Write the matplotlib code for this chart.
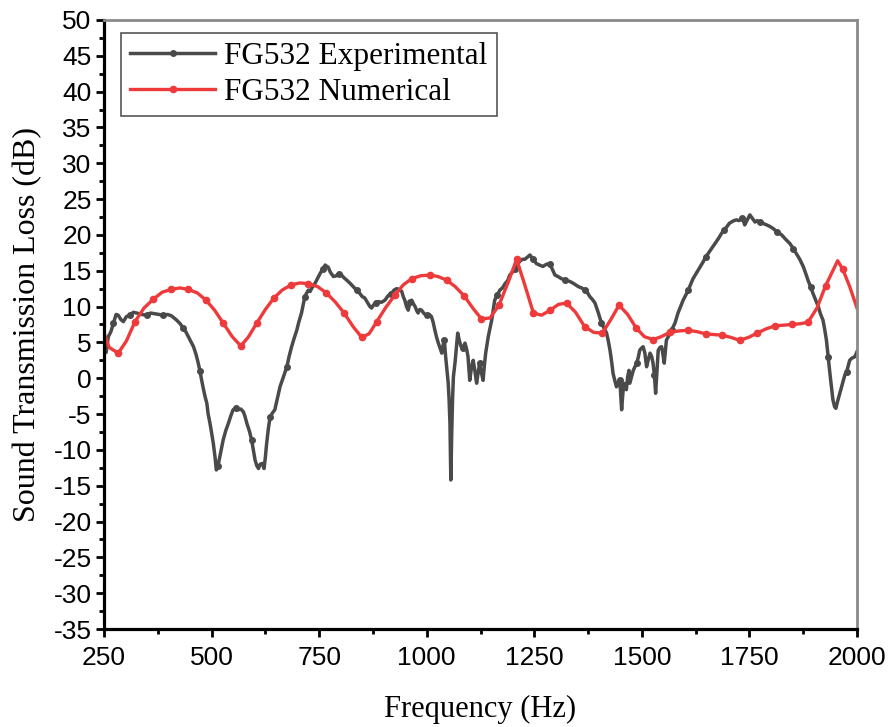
import numpy as np
import matplotlib
matplotlib.use("Agg")
import matplotlib.pyplot as plt
from matplotlib.ticker import MultipleLocator

plt.rcParams["axes.unicode_minus"] = False

# Measured sound transmission loss (dB) versus frequency (Hz)
exp_freq = [250, 255, 260, 266, 272, 278, 283, 289, 295, 302, 310, 318, 326, 337, 349, 358, 368, 378, 388, 398,
            407, 419, 427, 434, 440, 446, 452, 458, 464, 469, 473, 477, 481, 485, 489, 492, 496, 500, 504, 508,
            511, 515, 519, 523, 527, 533, 539, 545, 550, 556, 562, 568, 574, 578, 582, 588, 593, 597, 601, 605,
            609, 613, 618, 622, 625, 628, 632, 636, 642, 647, 653, 659, 667, 675, 680, 686, 692, 698, 703, 709,
            713, 717, 721, 725, 729, 733, 740, 746, 752, 758, 764, 768, 771, 776, 783, 790, 796, 802, 808, 814,
            821, 829, 837, 845, 850, 856, 862, 868, 872, 876, 881, 887, 895, 903, 910, 918, 924, 930, 936, 942,
            946, 949, 953, 957, 961, 965, 969, 973, 977, 980, 984, 988, 994, 1000, 1006, 1011, 1015, 1019, 1023, 1027,
            1031, 1035, 1038, 1041, 1044, 1047, 1050, 1052, 1054, 1056, 1058, 1060, 1062, 1066, 1069, 1072, 1076, 1080, 1084, 1089,
            1093, 1096, 1100, 1104, 1108, 1112, 1116, 1120, 1123, 1127, 1131, 1134, 1137, 1143, 1151, 1158, 1164, 1170, 1176, 1182,
            1188, 1193, 1199, 1205, 1210, 1216, 1222, 1228, 1234, 1240, 1247, 1255, 1262, 1270, 1278, 1286, 1292, 1298, 1305, 1313,
            1322, 1333, 1342, 1352, 1360, 1368, 1374, 1379, 1385, 1391, 1395, 1399, 1403, 1406, 1412, 1418, 1422, 1426, 1430, 1433,
            1437, 1441, 1445, 1449, 1451, 1453, 1456, 1458, 1461, 1464, 1467, 1470, 1472, 1476, 1480, 1484, 1488, 1492, 1495, 1499,
            1503, 1507, 1511, 1515, 1519, 1523, 1526, 1529, 1532, 1535, 1538, 1542, 1546, 1549, 1552, 1555, 1557, 1563, 1569, 1577,
            1584, 1590, 1596, 1602, 1608, 1614, 1619, 1625, 1631, 1637, 1643, 1648, 1654, 1662, 1670, 1678, 1685, 1691, 1697, 1703,
            1708, 1714, 1720, 1726, 1732, 1736, 1739, 1745, 1751, 1757, 1763, 1768, 1774, 1782, 1790, 1797, 1805, 1815, 1825, 1834,
            1844, 1852, 1859, 1867, 1875, 1881, 1886, 1892, 1898, 1904, 1910, 1915, 1921, 1925, 1929, 1933, 1937, 1941, 1944, 1948,
            1951, 1955, 1960, 1964, 1968, 1972, 1976, 1980, 1983, 1988, 1995, 2000]
exp_tl = [4.4, 3.6, 5.8, 6.5, 7.7, 8.9, 8.8, 8.2, 7.9, 8.6, 8.8, 9.2, 9.1, 8.9, 8.8, 9.1, 9.0, 8.9, 8.8, 8.9,
          8.7, 8.1, 7.6, 7.0, 6.5, 5.8, 5.1, 4.4, 3.3, 2.1, 1.0, -0.3, -1.5, -2.6, -3.5, -5.0, -6.2, -7.6, -9.1, -11.0,
          -12.8, -12.2, -11.0, -9.8, -8.6, -7.3, -6.3, -5.2, -4.4, -4.2, -4.4, -4.3, -4.7, -5.4, -6.3, -7.4, -8.6, -10.0, -11.4, -12.2,
          -12.6, -12.0, -11.9, -12.6, -11.0, -9.1, -7.0, -5.4, -4.8, -4.4, -2.8, -1.2, 0.2, 1.6, 3.0, 4.4, 5.6, 6.7, 7.9, 9.1,
          10.3, 11.4, 11.9, 12.3, 12.1, 12.6, 13.2, 13.9, 14.6, 15.2, 15.8, 15.6, 15.5, 14.8, 14.2, 14.3, 14.6, 14.4, 14.0, 13.7,
          13.3, 12.8, 12.3, 11.8, 11.4, 11.2, 10.6, 10.0, 9.8, 10.2, 10.5, 10.7, 10.6, 10.9, 11.5, 11.8, 12.3, 12.5, 12.4, 12.1,
          11.3, 10.9, 10.0, 9.5, 10.6, 10.9, 10.4, 10.0, 9.4, 9.1, 9.6, 9.5, 9.0, 8.8, 8.9, 8.6, 7.8, 6.7, 5.7, 4.9,
          4.2, 3.5, 4.6, 5.3, 3.0, 1.1, -0.7, -3.0, -6.3, -14.2, -8.0, -3.0, 0.2, 2.3, 4.3, 6.3, 5.2, 4.4, 4.2, 4.9,
          4.0, 3.0, -0.3, 1.5, 2.5, 1.0, -0.7, 1.0, 2.1, 0.8, -0.3, 1.8, 3.5, 5.8, 8.1, 10.9, 11.6, 12.3, 12.6, 13.2,
          13.6, 14.4, 14.8, 15.3, 15.8, 16.3, 16.6, 16.6, 16.9, 17.2, 16.6, 16.0, 15.8, 15.6, 15.9, 16.0, 15.2, 14.4, 14.2, 13.9,
          13.7, 13.5, 13.2, 12.8, 12.6, 12.3, 11.9, 11.4, 11.0, 10.5, 9.8, 9.1, 8.3, 7.7, 7.0, 6.3, 5.2, 3.9, 2.2, 0.7,
          -0.3, -1.2, -0.6, -0.2, -2.5, -4.4, -2.0, -0.7, -1.0, -1.6, 0.2, 1.1, -0.7, 0.2, 1.1, 1.6, 2.1, 3.0, 3.9, 4.2,
          4.4, 3.5, 1.6, 2.6, 3.5, 3.0, 2.1, 0.5, -2.1, 0.8, 3.9, 4.3, 4.4, 3.3, 2.1, 4.0, 5.3, 6.0, 6.7, 7.7,
          9.1, 10.0, 10.9, 11.6, 12.3, 13.2, 13.9, 14.5, 15.1, 15.7, 16.3, 16.9, 17.4, 18.1, 18.8, 19.5, 20.2, 20.7, 21.1, 21.6,
          21.8, 22.0, 22.1, 22.0, 22.3, 22.0, 21.4, 22.1, 22.8, 22.3, 21.8, 22.0, 21.8, 21.6, 21.4, 21.2, 20.9, 20.4, 20.0, 19.4,
          18.8, 18.1, 17.4, 16.6, 15.6, 14.6, 13.7, 12.8, 11.8, 10.9, 10.0, 9.0, 8.1, 6.8, 5.3, 3.0, 0.7, -1.4, -3.0, -4.0,
          -4.2, -3.2, -2.1, -1.2, -0.3, 0.5, 0.9, 1.8, 2.5, 2.8, 3.0, 3.7]

# Numerically predicted sound transmission loss (dB)
num_freq = [250, 262, 283, 302, 322, 343, 364, 385, 406, 426, 446, 467, 487, 507, 527, 548, 568, 586, 605, 625,
            645, 664, 684, 705, 725, 746, 767, 788, 808, 829, 849, 866, 884, 905, 926, 945, 965, 986, 1007, 1026,
            1046, 1066, 1087, 1107, 1127, 1147, 1168, 1190, 1209, 1228, 1248, 1267, 1287, 1306, 1325, 1346, 1367, 1388, 1408, 1428,
            1447, 1467, 1487, 1506, 1526, 1545, 1565, 1586, 1607, 1628, 1648, 1667, 1687, 1707, 1727, 1748, 1768, 1789, 1809, 1828,
            1848, 1867, 1886, 1907, 1927, 1955, 1967, 1983, 2000]
num_tl = [6.3, 4.3, 3.5, 5.2, 7.9, 9.8, 11.0, 12.0, 12.4, 12.6, 12.4, 11.9, 10.9, 9.5, 7.7, 5.8, 4.5, 5.8, 7.7, 9.6,
          11.2, 12.3, 13.0, 13.3, 13.2, 12.8, 11.9, 10.6, 9.1, 7.2, 5.7, 6.2, 7.9, 9.9, 11.6, 13.0, 13.9, 14.3, 14.4, 14.2,
          13.7, 12.8, 11.5, 9.8, 8.3, 8.4, 10.2, 13.5, 16.6, 13.0, 9.1, 8.8, 9.5, 10.3, 10.5, 9.2, 7.2, 6.4, 6.3, 8.2,
          10.2, 8.9, 7.0, 5.8, 5.4, 5.8, 6.4, 6.6, 6.7, 6.5, 6.2, 6.1, 6.0, 5.7, 5.3, 5.7, 6.3, 6.9, 7.3, 7.4,
          7.5, 7.6, 7.8, 9.8, 12.9, 16.4, 15.2, 12.8, 9.8]

x_ticks = [250, 500, 750, 1000, 1250, 1500, 1750, 2000]
y_ticks = list(range(-35, 51, 5))

serif = ["Liberation Serif", "DejaVu Serif"]
narrow = ["Liberation Sans Narrow", "Liberation Sans", "DejaVu Sans"]

fig = plt.figure(figsize=(8.89, 7.27), dpi=100)
ax = fig.add_axes([0.117, 0.1348, 0.847, 0.8377])

grey = "#4a4a4a"
red = "#ee3a3a"

# marker spacing on the measured curve: one marker about every 40.6 Hz
ef = np.asarray(exp_freq)
grid = np.arange(270.0, 2000.0, 40.6)
exp_marks = sorted(set(int(np.argmin(np.abs(ef - g))) for g in grid))

ax.plot(exp_freq, exp_tl, color=grey, lw=2.5, marker="o", markersize=4.0,
        markevery=exp_marks, label="FG532 Experimental", solid_joinstyle="round")
ax.plot(num_freq, num_tl, color=red, lw=2.4, marker="o", markersize=4.5,
        markevery=slice(2, len(num_freq) - 1, 2), label="FG532 Numerical")

ax.set_xlim(250, 2000)
ax.set_ylim(-35, 50)
ax.set_xticks(x_ticks)
ax.set_yticks(y_ticks)
ax.xaxis.set_minor_locator(MultipleLocator(125))
ax.yaxis.set_minor_locator(MultipleLocator(2.5))

ax.tick_params(axis="both", which="major", direction="out", length=6, width=2.0,
               labelsize=19, top=False, right=False)
ax.tick_params(axis="x", which="major", pad=6)
ax.tick_params(axis="y", which="major", pad=3)
ax.tick_params(axis="both", which="minor", direction="out", length=3.5, width=2.0,
               top=False, right=False)
for lab in ax.get_xticklabels() + ax.get_yticklabels():
    lab.set_fontfamily(narrow)

for side in ("left", "bottom"):
    ax.spines[side].set_linewidth(2.3)
    ax.spines[side].set_color("black")
for side in ("top", "right"):
    ax.spines[side].set_linewidth(2.0)
    ax.spines[side].set_color("#8a8a8a")

ax.set_xlabel("Frequency (Hz)", fontsize=22, family=serif, labelpad=18)
ax.set_ylabel("Sound Transmission Loss (dB)", fontsize=23, family=serif, labelpad=8)

leg = ax.legend(loc="upper left", bbox_to_anchor=(0.0226, 0.9787), borderaxespad=0,
                prop={"family": serif, "size": 22.5}, handlelength=2.7, handletextpad=0.3,
                labelspacing=0.2, borderpad=0.3, fancybox=False, framealpha=1)
leg.get_frame().set_edgecolor("#555555")
leg.get_frame().set_linewidth(1.2)

fig.savefig("out.png", dpi=100)
